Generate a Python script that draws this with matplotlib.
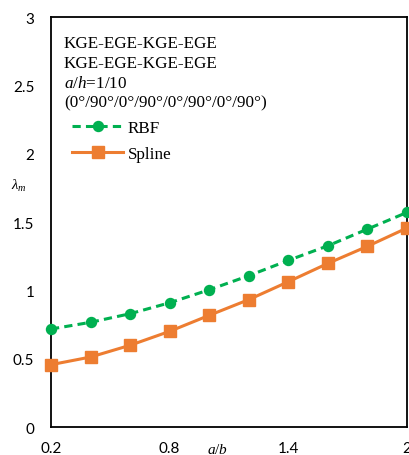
import numpy as np
import matplotlib.pyplot as plt

plt.rcParams['mathtext.fontset'] = 'custom'
plt.rcParams['mathtext.rm'] = 'Liberation Serif'
plt.rcParams['mathtext.it'] = 'Liberation Serif:italic'

# aspect ratio a/b and normalised buckling load
ratio = [0.2, 0.4, 0.6, 0.8, 1.0, 1.2, 1.4, 1.6, 1.8, 2.0]
rbf = [0.717, 0.766, 0.829, 0.909, 1.004, 1.107, 1.219, 1.326, 1.448, 1.570]
spline = [0.456, 0.512, 0.598, 0.700, 0.817, 0.932, 1.063, 1.197, 1.322, 1.456]

xticks = [0.2, 0.8, 1.4, 2.0]
xticklabels = ['0.2', '0.8', '1.4', '2']
yticks = [0, 0.5, 1, 1.5, 2, 2.5, 3]
yticklabels = ['0', '0.5', '1', '1.5', '2', '2.5', '3']

header = ['KGE-EGE-KGE-EGE', 'KGE-EGE-KGE-EGE', '$a/h$=1/10',
          '(0°/90°/0°/90°/0°/90°/0°/90°)']

green = '#00B050'
orange = '#ED7D31'
serif = 'Liberation Serif'
tickfont = 'Lato'

fig = plt.figure(figsize=(4.09, 4.56), dpi=100)
ax = fig.add_axes([0.1247, 0.0614, 0.8703, 0.8991])

ax.plot(ratio, rbf, ls=(0, (2.7, 1.7)), color=green, lw=2.2, marker='o', ms=7.2,
        label='RBF', clip_on=False, zorder=3)
ax.plot(ratio, spline, ls='-', color=orange, lw=2.2, marker='s', ms=8,
        label='Spline', clip_on=False, zorder=3)

ax.set_xlim(0.2, 2.0)
ax.set_ylim(0, 3)
ax.set_xticks(xticks)
ax.set_xticklabels(xticklabels, fontfamily=tickfont, fontsize=11)
ax.set_yticks(yticks)
ax.set_yticklabels(yticklabels, fontfamily=tickfont, fontsize=11)
ax.tick_params(length=0)
ax.tick_params(axis='x', pad=10)
ax.tick_params(axis='y', pad=12)
for s in ax.spines.values():
    s.set_linewidth(1.3)
    s.set_color('black')

# axis titles sit inside the tick-label band
ax.text(0.468, -0.052, '$a/b$', transform=ax.transAxes, ha='center', va='center',
        fontsize=11)
ax.text(-0.09, 0.59, r'$\lambda_m$', transform=ax.transAxes, ha='center',
        va='center', fontsize=10.5)

y0 = 0.937
for i, line in enumerate(header):
    ax.text(0.036, y0 - i * 0.0485, line, transform=ax.transAxes, ha='left',
            va='center', fontsize=12.3, fontfamily=serif)

ax.legend(loc='center left', bbox_to_anchor=(0.059, 0.698), frameon=False,
          prop={'family': serif, 'size': 12.3}, handlelength=3.0,
          handletextpad=0.25, labelspacing=0.6, borderpad=0, borderaxespad=0)

fig.savefig('out.png', dpi=100)
